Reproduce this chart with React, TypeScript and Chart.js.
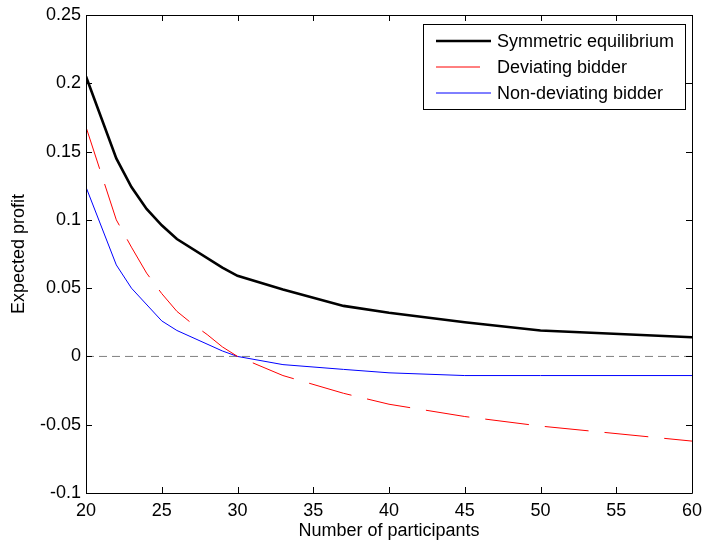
import React, { useEffect, useRef } from "react";
import { Chart, registerables } from "chart.js";

Chart.register(...registerables);

// ---- data ----
const seriesNames = ["Symmetric equilibrium", "Deviating bidder", "Non-deviating bidder"];

const symN = [20, 22, 23, 24, 25, 26, 29, 30, 33, 37, 40, 45, 50, 60];
const symProfit = [0.205, 0.145, 0.124, 0.108, 0.096, 0.086, 0.065, 0.059, 0.049, 0.037, 0.032, 0.025, 0.019, 0.014];

const devN = [20, 22, 23, 24, 25, 26, 27, 28, 29, 30, 33, 37, 40, 45, 50, 60];
const devProfit = [0.168, 0.1, 0.08, 0.061, 0.046, 0.033, 0.024, 0.016, 0.007, 0.0, -0.014, -0.027, -0.035, -0.044, -0.051, -0.062];

const nonDevN = [20, 22, 23, 25, 26, 29, 30, 33, 37, 40, 45, 50, 60];
const nonDevProfit = [0.124, 0.067, 0.05, 0.026, 0.019, 0.004, 0.0, -0.006, -0.0095, -0.012, -0.014, -0.014, -0.014];

const zeroN = [20, 60];
const zeroLine = [0, 0];

const xTicks = [20, 25, 30, 35, 40, 45, 50, 55, 60];
const yTicks = [-0.1, -0.05, 0, 0.05, 0.1, 0.15, 0.2, 0.25];

const FONT = "'Liberation Sans', Arial, Helvetica, sans-serif";
const FS = 18;

const toPoints = (xs: number[], ys: number[]) => xs.map((x, i) => ({ x, y: ys[i] }));

const framePlugin = {
  id: "matlabFrame",
  afterDatasetsDraw(chart: any) {
    const { ctx, chartArea: a, scales } = chart;
    const xs = scales.x;
    const ys = scales.y;
    ctx.save();
    ctx.strokeStyle = "#000";
    ctx.lineWidth = 1;
    ctx.beginPath();
    ctx.rect(Math.round(a.left) + 0.5, Math.round(a.top) + 0.5, Math.round(a.right - a.left), Math.round(a.bottom - a.top));
    ctx.stroke();
    const tl = 6;
    ctx.beginPath();
    xTicks.forEach((v) => {
      const px = Math.round(xs.getPixelForValue(v)) + 0.5;
      ctx.moveTo(px, a.bottom);
      ctx.lineTo(px, a.bottom - tl);
      ctx.moveTo(px, a.top);
      ctx.lineTo(px, a.top + tl);
    });
    yTicks.forEach((v) => {
      const py = Math.round(ys.getPixelForValue(v)) + 0.5;
      ctx.moveTo(a.left, py);
      ctx.lineTo(a.left + tl, py);
      ctx.moveTo(a.right, py);
      ctx.lineTo(a.right - tl, py);
    });
    ctx.stroke();
    ctx.restore();
  },
  afterDraw(chart: any) {
    const { ctx } = chart;
    const ds = chart.data.datasets;
    const box = { left: 423.5, top: 24.5, w: 262, h: 85 };
    ctx.save();
    ctx.fillStyle = "#fff";
    ctx.fillRect(box.left, box.top, box.w, box.h);
    ctx.strokeStyle = "#000";
    ctx.lineWidth = 1;
    ctx.strokeRect(box.left, box.top, box.w, box.h);
    const rows = [41, 67, 93];
    for (let i = 0; i < 3; i++) {
      const d = ds[i];
      ctx.save();
      ctx.strokeStyle = d.borderColor;
      ctx.lineWidth = d.borderWidth;
      ctx.setLineDash(d.borderDash || []);
      ctx.beginPath();
      ctx.moveTo(436, rows[i]);
      ctx.lineTo(491, rows[i]);
      ctx.stroke();
      ctx.restore();
      ctx.fillStyle = "#000";
      ctx.font = `${FS}px ${FONT}`;
      ctx.textBaseline = "middle";
      ctx.textAlign = "left";
      ctx.fillText(d.label, 497, rows[i] + 1);
    }
    ctx.restore();
  },
};

export default function App() {
  const ref = useRef<HTMLCanvasElement | null>(null);
  useEffect(() => {
    if (!ref.current) return;
    const chart = new Chart(ref.current, {
      type: "line",
      data: {
        datasets: [
          {
            label: seriesNames[0],
            data: toPoints(symN, symProfit),
            borderColor: "#000000",
            borderWidth: 2.6,
            pointRadius: 0,
            tension: 0,
            fill: false,
          },
          {
            label: seriesNames[1],
            data: toPoints(devN, devProfit),
            borderColor: "#ff0000",
            borderWidth: 1,
            borderDash: [44, 16],
            pointRadius: 0,
            tension: 0,
            fill: false,
          },
          {
            label: seriesNames[2],
            data: toPoints(nonDevN, nonDevProfit),
            borderColor: "#0000ff",
            borderWidth: 1,
            pointRadius: 0,
            tension: 0,
            fill: false,
          },
          {
            label: "zero",
            data: toPoints(zeroN, zeroLine),
            borderColor: "#808080",
            borderWidth: 1,
            borderDash: [8, 5],
            pointRadius: 0,
            tension: 0,
            fill: false,
          },
        ],
      },
      options: {
        responsive: false,
        animation: false,
        devicePixelRatio: 1,
        layout: { padding: { left: 0, right: 12, top: 15, bottom: 0 } },
        plugins: { legend: { display: false }, tooltip: { enabled: false } },
        scales: {
          x: {
            type: "linear",
            min: 20,
            max: 60,
            afterFit: (s: any) => {
              s.height = 51;
              s.paddingLeft = 0;
              s.paddingRight = 0;
            },
            afterBuildTicks: (s: any) => {
              s.ticks = xTicks.map((v) => ({ value: v }));
            },
            ticks: {
              color: "#000",
              font: { family: FONT, size: FS },
              padding: 7,
              maxRotation: 0,
              autoSkip: false,
              callback: (v: any) => String(v),
            },
            grid: { display: false, drawTicks: false },
            border: { display: false },
            title: {
              display: true,
              text: "Number of participants",
              color: "#000",
              font: { family: FONT, size: FS },
              padding: { top: 0, bottom: 2 },
            },
          },
          y: {
            type: "linear",
            min: -0.1,
            max: 0.25,
            afterFit: (s: any) => {
              s.width = 86;
              s.paddingTop = 0;
              s.paddingBottom = 0;
            },
            afterBuildTicks: (s: any) => {
              s.ticks = yTicks.map((v) => ({ value: v }));
            },
            ticks: {
              color: "#000",
              font: { family: FONT, size: FS },
              padding: 5,
              autoSkip: false,
              callback: (v: any) => String(parseFloat(Number(v).toFixed(3))),
            },
            grid: { display: false, drawTicks: false },
            border: { display: false },
            title: {
              display: true,
              text: "Expected profit",
              color: "#000",
              font: { family: FONT, size: FS },
              padding: { top: 8, bottom: 0 },
            },
          },
        },
      },
      plugins: [framePlugin],
    });
    return () => chart.destroy();
  }, []);
  return (
    <div style={{ position: "absolute", left: 0, top: 0, width: 704, height: 544, background: "#fff" }}>
      <canvas ref={ref} width={704} height={544} style={{ display: "block" }} />
    </div>
  );
}
